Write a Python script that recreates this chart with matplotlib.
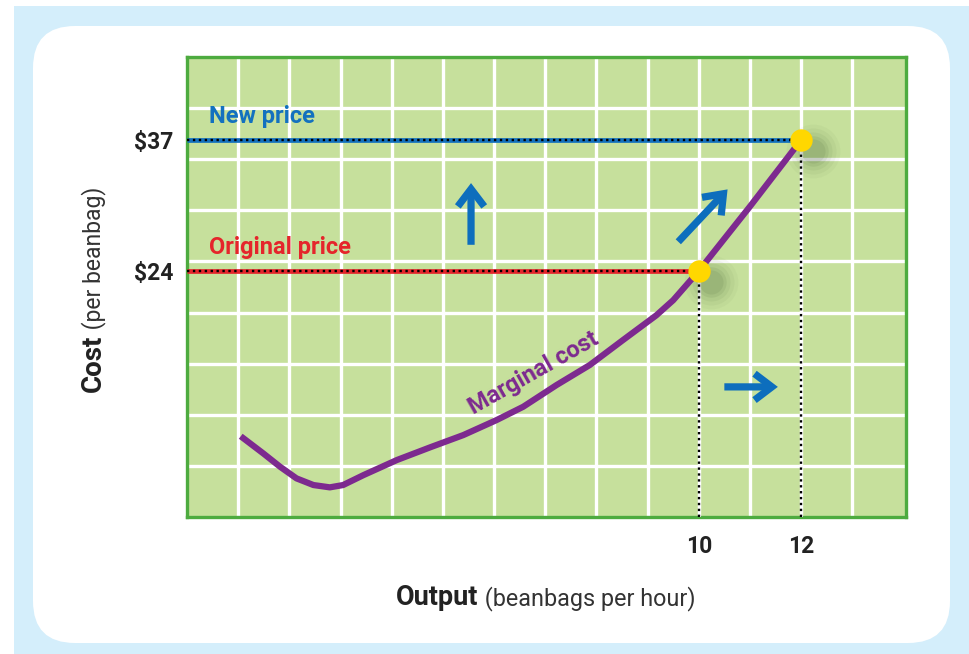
import numpy as np
import matplotlib
matplotlib.use("Agg")
import matplotlib.pyplot as plt
from matplotlib.patches import FancyBboxPatch, Rectangle

# --- data ---
mc_output = [1.05, 1.49, 1.82, 2.14, 2.47, 2.79, 3.05, 3.45, 4.10, 4.75,
             5.40, 6.05, 6.57, 7.22, 7.87, 8.52, 9.17, 9.50, 10.0, 11.0, 12.0]
mc_cost = [7.6, 5.9, 4.57, 3.42, 2.76, 2.53, 2.76, 3.75, 5.24, 6.5,
           7.72, 9.21, 10.53, 12.68, 14.67, 17.15, 19.6, 21.1, 24.0, 30.4, 37.0]

prices = [24, 37]
price_outputs = [10, 12]
price_names = ["Original price", "New price"]
price_colors = ["#e5252b", "#1371bf"]

# arrows: (x_tail, y_tail, x_head, y_head)
arrows = [(5.55, 26.6, 5.55, 33.0),
          (9.6, 26.9, 10.6, 32.3),
          (10.5, 12.5, 11.6, 12.5)]

GREEN_FILL = "#c6e09c"
GREEN_EDGE = "#4dab3f"
PURPLE = "#7d2a8f"
BLUE = "#0d6ebd"
FONT = ["Roboto", "DejaVu Sans"]

fig = plt.figure(figsize=(9.69, 6.54), dpi=100)
fig.patch.set_facecolor("white")

# light blue frame and rounded white panel (in inches)
fig.patches.append(Rectangle((0.14, 0.0), 9.7, 6.48, transform=fig.dpi_scale_trans,
                             facecolor="#d4eefb", edgecolor="none", zorder=0))
fig.patches.append(FancyBboxPatch((0.33, 0.11), 9.17, 6.17,
                                  boxstyle="round,pad=0,rounding_size=0.42",
                                  transform=fig.dpi_scale_trans,
                                  facecolor="white", edgecolor="none", zorder=1))

ax = fig.add_axes([0.193, 0.2095, 0.742, 0.7034])
ax.set_facecolor(GREEN_FILL)
ax.set_zorder(2)
xlim = (0, 14.05)
ylim = (-0.41, 45.24)
ax.set_xlim(*xlim)
ax.set_ylim(*ylim)

# white grid, 14 columns x 9 rows
for gx in range(1, 14):
    ax.axvline(gx, color="white", lw=2.4, zorder=1)
for k in range(1, 9):
    ax.axhline(ylim[0] + k * (ylim[1] - ylim[0]) / 9, color="white", lw=2.4, zorder=1)

for s in ax.spines.values():
    s.set_color(GREEN_EDGE)
    s.set_linewidth(2.4)
ax.tick_params(length=0)
ax.tick_params(axis="x", pad=13)
ax.tick_params(axis="y", pad=10)
ax.set_xticks(price_outputs)
ax.set_xticklabels([str(v) for v in price_outputs], fontsize=16.5, family=FONT,
                   fontweight="bold", color="#222222")
ax.set_yticks(prices)
ax.set_yticklabels(["$%d" % v for v in prices], fontsize=16.5, family=FONT,
                   fontweight="bold", color="#222222")

# price lines (colored under black dots)
for p, q, name, c in zip(prices, price_outputs, price_names, price_colors):
    ax.plot([0, q], [p, p], color=c, lw=3.4, solid_capstyle="butt", zorder=3)
    ax.plot([0, q], [p, p], color="black", lw=1.7, linestyle=(0, (1.0, 1.5)), zorder=4)
    ax.plot([q, q], [ylim[0], p], color="white", lw=2.2, zorder=3)
    ax.plot([q, q], [ylim[0], p], color="black", lw=1.7, linestyle=(0, (1.0, 1.5)), zorder=4)
    ax.text(0.43, p + 2.3, name, color=c, fontsize=17, family=FONT,
            fontweight="bold", va="center", ha="left", zorder=5)

# marginal cost curve
ax.plot(mc_output, mc_cost, color=PURPLE, lw=4.5, solid_joinstyle="round",
        solid_capstyle="butt", zorder=5)
ax.text(6.78, 13.9, "Marginal cost", color=PURPLE, fontsize=17, family=FONT,
        fontweight="bold", rotation=29.5, ha="center", va="center", zorder=5)

# soft shadows and yellow dots
for q, p in zip(price_outputs, prices):
    for sz, a in [(1500, 0.03), (1100, 0.04), (750, 0.05), (480, 0.07), (300, 0.08)]:
        ax.scatter([q + 0.24], [p - 1.1], s=sz, color="#1a3a10", alpha=a,
                   linewidths=0, zorder=4)
    ax.scatter([q], [p], s=260, color="#ffd700", linewidths=0, zorder=7)

# blue arrows
for x0, y0, x1, y1 in arrows:
    ax.annotate("", xy=(x1, y1), xytext=(x0, y0), zorder=6,
                arrowprops=dict(arrowstyle="->,head_length=1.25,head_width=0.95",
                                color=BLUE, lw=5.2, shrinkA=0, shrinkB=2,
                                joinstyle="miter", capstyle="butt"))

# axis titles (bold word followed by regular text)
t1 = fig.text(0.409, 0.066, "Output", fontsize=19.5, family=FONT, fontweight="bold",
              color="#222222", ha="left", va="bottom")
ax.annotate(" (beanbags per hour)", xy=(1, 0), xycoords=t1, fontsize=16.8,
            family=FONT, color="#333333", ha="left", va="bottom",
            annotation_clip=False)
t2 = fig.text(0.082, 0.4, "Cost", fontsize=20, family=FONT, fontweight="bold",
              color="#222222", rotation=90, ha="left", va="bottom")
ax.annotate(" (per beanbag)", xy=(1, 1), xycoords=t2, fontsize=16.5,
            family=FONT, color="#333333", rotation=90, ha="right", va="bottom",
            annotation_clip=False)

fig.savefig("out.png", dpi=100)
